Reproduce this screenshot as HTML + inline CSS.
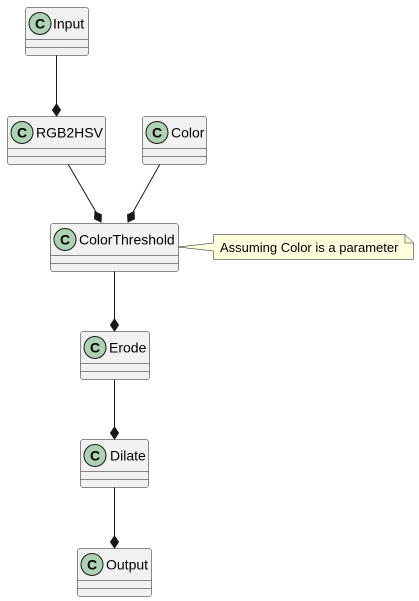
<!DOCTYPE html>
<html><head><style>body{margin:0;background:#fff}svg{display:block}text{font-family:"Liberation Sans",sans-serif}</style></head>
<body>
<svg width="419" height="601" viewBox="0 0 419 601" xmlns="http://www.w3.org/2000/svg">
<defs>
<g id="d"><polygon points="0,0 -4,-6 0,-12 4,-6" fill="#181818" stroke="#181818"/></g>
</defs>
<g stroke="#181818" stroke-width="1" fill="none">
<line x1="56.5" y1="55" x2="56.5" y2="105"/>
<line x1="68" y1="164" x2="96" y2="212"/>
<line x1="160" y1="164" x2="133" y2="212"/>
<line x1="114.5" y1="271" x2="114.5" y2="320"/>
<line x1="114.5" y1="379" x2="114.5" y2="428"/>
<line x1="114.5" y1="487" x2="114.5" y2="537"/>
</g>
<use href="#d" transform="translate(56.5,116)"/>
<use href="#d" transform="translate(101,222) rotate(-30)"/>
<use href="#d" transform="translate(128,222) rotate(30)"/>
<use href="#d" transform="translate(114.5,331)"/>
<use href="#d" transform="translate(114.5,439)"/>
<use href="#d" transform="translate(114.5,548)"/>
<!-- note -->
<path d="M213.5,234.5 H405 L413.5,243 V259.5 H213.5 V251 L178,247 L213.5,243 Z" fill="#FEFFDD" stroke="#181818" stroke-width="0.5"/>
<path d="M405,234.5 V243 H413.5" fill="none" stroke="#181818" stroke-width="0.5"/>
<text x="220" y="252" font-size="13" fill="#000">Assuming Color is a parameter</text>
<!-- classes -->
<g font-size="14">
<g transform="translate(25,7)"><rect x="0.5" y="0.5" width="63" height="48" rx="2.5" fill="#F1F1F1" stroke="#181818" stroke-width="0.5"/><line x1="0.5" y1="32.5" x2="63.5" y2="32.5" stroke="#181818" stroke-width="0.5"/><line x1="0.5" y1="40.5" x2="63.5" y2="40.5" stroke="#181818" stroke-width="0.5"/><circle cx="15" cy="16.5" r="11" fill="#ADD1B2" stroke="#181818"/><text x="15" y="21.5" text-anchor="middle" font-weight="bold" font-size="14">C</text><text x="28" y="21.5">Input</text></g>
<g transform="translate(7,116)"><rect x="0.5" y="0.5" width="98" height="48" rx="2.5" fill="#F1F1F1" stroke="#181818" stroke-width="0.5"/><line x1="0.5" y1="32.5" x2="98.5" y2="32.5" stroke="#181818" stroke-width="0.5"/><line x1="0.5" y1="40.5" x2="98.5" y2="40.5" stroke="#181818" stroke-width="0.5"/><circle cx="15" cy="16.5" r="11" fill="#ADD1B2" stroke="#181818"/><text x="15" y="21.5" text-anchor="middle" font-weight="bold">C</text><text x="29" y="21.5">RGB2HSV</text></g>
<g transform="translate(142,116)"><rect x="0.5" y="0.5" width="64" height="48" rx="2.5" fill="#F1F1F1" stroke="#181818" stroke-width="0.5"/><line x1="0.5" y1="32.5" x2="64.5" y2="32.5" stroke="#181818" stroke-width="0.5"/><line x1="0.5" y1="40.5" x2="64.5" y2="40.5" stroke="#181818" stroke-width="0.5"/><circle cx="15" cy="16.5" r="11" fill="#ADD1B2" stroke="#181818"/><text x="15" y="21.5" text-anchor="middle" font-weight="bold">C</text><text x="29" y="21.5">Color</text></g>
<g transform="translate(50,223)"><rect x="0.5" y="0.5" width="128" height="48" rx="2.5" fill="#F1F1F1" stroke="#181818" stroke-width="0.5"/><line x1="0.5" y1="32.5" x2="128.5" y2="32.5" stroke="#181818" stroke-width="0.5"/><line x1="0.5" y1="40.5" x2="128.5" y2="40.5" stroke="#181818" stroke-width="0.5"/><circle cx="15" cy="16.5" r="11" fill="#ADD1B2" stroke="#181818"/><text x="15" y="21.5" text-anchor="middle" font-weight="bold">C</text><text x="29" y="21.5">ColorThreshold</text></g>
<g transform="translate(80,331)"><rect x="0.5" y="0.5" width="69" height="48" rx="2.5" fill="#F1F1F1" stroke="#181818" stroke-width="0.5"/><line x1="0.5" y1="32.5" x2="69.5" y2="32.5" stroke="#181818" stroke-width="0.5"/><line x1="0.5" y1="40.5" x2="69.5" y2="40.5" stroke="#181818" stroke-width="0.5"/><circle cx="15" cy="16.5" r="11" fill="#ADD1B2" stroke="#181818"/><text x="15" y="21.5" text-anchor="middle" font-weight="bold">C</text><text x="29" y="21.5">Erode</text></g>
<g transform="translate(80,439)"><rect x="0.5" y="0.5" width="68" height="48" rx="2.5" fill="#F1F1F1" stroke="#181818" stroke-width="0.5"/><line x1="0.5" y1="32.5" x2="68.5" y2="32.5" stroke="#181818" stroke-width="0.5"/><line x1="0.5" y1="40.5" x2="68.5" y2="40.5" stroke="#181818" stroke-width="0.5"/><circle cx="15" cy="16.5" r="11" fill="#ADD1B2" stroke="#181818"/><text x="15" y="21.5" text-anchor="middle" font-weight="bold">C</text><text x="30" y="21.5">Dilate</text></g>
<g transform="translate(77,548)"><rect x="0.5" y="0.5" width="74" height="48" rx="2.5" fill="#F1F1F1" stroke="#181818" stroke-width="0.5"/><line x1="0.5" y1="32.5" x2="74.5" y2="32.5" stroke="#181818" stroke-width="0.5"/><line x1="0.5" y1="40.5" x2="74.5" y2="40.5" stroke="#181818" stroke-width="0.5"/><circle cx="15" cy="16.5" r="11" fill="#ADD1B2" stroke="#181818"/><text x="15" y="21.5" text-anchor="middle" font-weight="bold">C</text><text x="29" y="21.5">Output</text></g>
</g>
</svg>
</body></html>
